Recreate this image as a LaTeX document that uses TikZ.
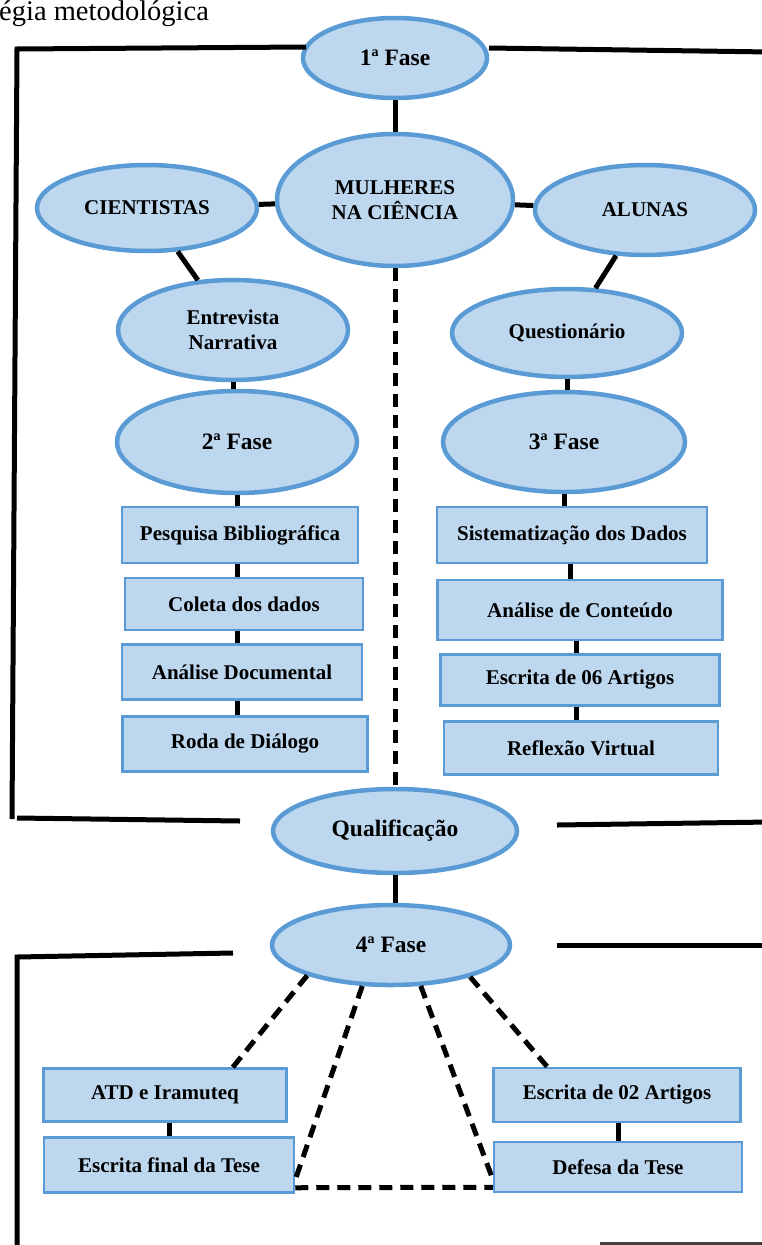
\documentclass[tikz,border=0pt]{standalone}
\usepackage{fontspec}
\setmainfont{Liberation Serif}
\usetikzlibrary{positioning,shapes.geometric}
\definecolor{fillblue}{HTML}{BDD7EE}
\definecolor{lineblue}{HTML}{5B9BD5}

\tikzset{
  fase/.style={ellipse, draw=lineblue, fill=fillblue, line width=4.5pt, inner sep=0pt,
    align=center, font=\bfseries\fontsize{21}{25}\selectfont},
  fasegrande/.style={fase, font=\bfseries\fontsize{23.5}{27}\selectfont},
  etapa/.style={rectangle, draw=lineblue, fill=fillblue, line width=2.5pt, inner sep=0pt,
    font=\bfseries\fontsize{21}{25}\selectfont},
  link/.style={line width=5pt},
  dlink/.style={line width=5pt, dash pattern=on 13pt off 8pt},
  moldura/.style={line width=5pt},
}

\begin{document}
\begin{tikzpicture}[x=1pt,y=-1pt]
    \useasboundingbox (0,0) rectangle (762,1245);
    \node[anchor=base west, inner sep=0pt, font=\fontsize{28.5}{32}\selectfont] (titulo) at (-1,20) {égia metodológica};
    % first phase and the two groups
    \node[fasegrande, minimum width=184pt, minimum height=80pt] (fase1) at (395,58) {1ª Fase};
    \node[fase, minimum width=236pt, minimum height=132pt] (mulheres) at (395,200) {MULHERES\\NA CIÊNCIA};
    \node[fase, minimum width=220pt, minimum height=86pt] (cientistas) at (147,208) {CIENTISTAS};
    \node[fase, minimum width=220pt, minimum height=90pt] (alunas) at (645,210) {ALUNAS};
    \node[fase, minimum width=230pt, minimum height=100pt] (entrevista) at (233,330) {Entrevista\\Narrativa};
    \node[fase, minimum width=230pt, minimum height=88pt] (questionario) at (567,333) {Questionário};
    \node[fasegrande, minimum width=240pt, minimum height=102pt] (fase2) at (237,442) {2ª Fase};
    \node[fasegrande, minimum width=242pt, minimum height=100pt] (fase3) at (564,442) {3ª Fase};
    % steps of the second phase
    \node[etapa, minimum width=236pt, minimum height=56pt] (pesquisa) at (240,535) {Pesquisa Bibliográfica};
    \node[etapa, minimum width=238pt, minimum height=52pt] (coleta) at (244,604) {Coleta dos dados};
    \node[etapa, minimum width=240pt, minimum height=55pt] (documental) at (242,672) {Análise Documental};
    \node[etapa, minimum width=245pt, minimum height=55pt] (roda) at (245,744) {Roda de Diálogo};
    % steps of the third phase
    \node[etapa, minimum width=270pt, minimum height=56pt] (sistematizacao) at (572,535) {Sistematização dos Dados};
    \node[etapa, minimum width=285pt, minimum height=60pt] (conteudo) at (580,610) {Análise de Conteúdo};
    \node[etapa, minimum width=279pt, minimum height=51pt] (artigos06) at (580,680) {Escrita de 06 Artigos};
    \node[etapa, minimum width=274pt, minimum height=53pt] (reflexao) at (581,748) {Reflexão Virtual};
    % qualification and fourth phase
    \node[fasegrande, minimum width=244pt, minimum height=84pt] (qualificacao) at (395,831) {Qualificação};
    \node[fasegrande, minimum width=238pt, minimum height=80pt] (fase4) at (391,945) {4ª Fase};
    \node[etapa, minimum width=243pt, minimum height=53pt] (atd) at (165,1095) {ATD e Iramuteq};
    \node[etapa, minimum width=250pt, minimum height=55pt] (escritafinal) at (169,1165) {Escrita final da Tese};
    \node[etapa, minimum width=247pt, minimum height=54pt] (artigos02) at (617,1095) {Escrita de 02 Artigos};
    \node[etapa, minimum width=248pt, minimum height=50pt] (defesa) at (618,1167) {Defesa da Tese};
    % solid links
    \path[link] (fase1) edge (mulheres)
        (cientistas) edge (mulheres)
        (mulheres) edge (alunas)
        (cientistas) edge (entrevista)
        (alunas) edge (questionario)
        (entrevista) edge (entrevista |- fase2.north)
        (questionario) edge (questionario |- fase3.north)
        (fase2) edge (fase2 |- pesquisa.north)
        (pesquisa.south -| fase2) edge (fase2 |- coleta.north)
        (coleta.south -| fase2) edge (fase2 |- documental.north)
        (documental.south -| fase2) edge (fase2 |- roda.north)
        (fase3) edge (fase3 |- sistematizacao.north)
        (sistematizacao.south -| 570,0) edge (conteudo.north -| 570,0)
        (conteudo.south -| 576,0) edge (artigos06.north -| 576,0)
        (artigos06.south -| 576,0) edge (reflexao.north -| 576,0)
        (qualificacao) edge (qualificacao |- fase4.north)
        (atd.south -| escritafinal) edge (escritafinal.north)
        (artigos02.south -| defesa) edge (defesa.north);
    % dashed links
    \draw[dlink] (mulheres) -- (qualificacao);
    \draw[dlink] (fase4.200) -- ([xshift=-55pt]atd.north east);
    \draw[dlink] (fase4.235) -- ([yshift=14pt]escritafinal.south east);
    \draw[dlink] (fase4.306) -- ([yshift=14pt]defesa.south west);
    \draw[dlink] (fase4.338) -- ([xshift=55pt]artigos02.north west);
    \draw[dlink] ([yshift=6pt]escritafinal.south east) -- ([yshift=6pt]defesa.south west);
    % frame lines
    \coordinate (cantoA) at (17,49);
    \coordinate (cantoB) at (12,819);
    \draw[moldura] (306,47) -- (cantoA) -- (cantoB);
    \draw[moldura] (489,48) -- (770,52);
    \draw[moldura] (17,818) -- (240,821);
    \draw[moldura] (557,825) -- (770,822);
    \coordinate (cantoC) at (17,957);
    \draw[moldura] (233,953) -- (cantoC) -- (17,1260);
    \draw[moldura] (557,945) -- (770,945);
    \draw[line width=3pt, black!75] (600,1243) -- (770,1243);
\end{tikzpicture}
\end{document}
